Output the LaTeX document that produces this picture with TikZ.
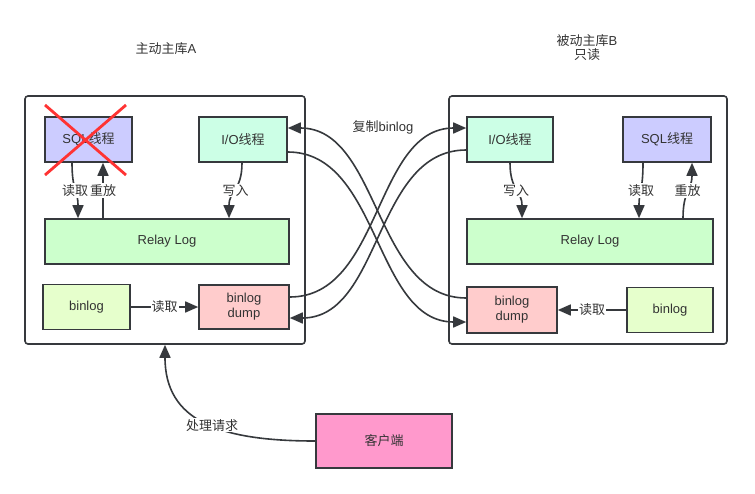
\documentclass[tikz,border=0pt]{standalone}
\usepackage{fontspec}
\setmainfont{Liberation Sans}
\newfontfamily\cjk{Noto Sans CJK SC}
\usetikzlibrary{arrows.meta}
\definecolor{linec}{HTML}{36393D}
\definecolor{txtc}{HTML}{333333}
\definecolor{sqlc}{HTML}{CCCCFF}
\definecolor{ioc}{HTML}{CCFFE6}
\definecolor{relayc}{HTML}{CCFFCC}
\definecolor{binc}{HTML}{E6FFCC}
\definecolor{dumpc}{HTML}{FFCCCC}
\definecolor{clientc}{HTML}{FF99CC}
\definecolor{crossc}{HTML}{FF3333}
\tikzset{
  base/.style={font=\fontsize{13}{15}\selectfont, text=txtc},
  box/.style={base, draw=linec, line width=1.6pt, inner sep=0pt, align=center},
  bigbox/.style={draw=linec, line width=1.6pt, rounded corners=3pt, fill=white, inner sep=0pt},
  arr/.style={draw=linec, line width=1.6pt, -{Triangle[length=13pt,width=11pt]}},
  lbl/.style={base, fill=white, inner sep=1pt},
  title/.style={base, align=center},
}
\begin{document}
\begin{tikzpicture}[x=1pt,y=-1pt]
\useasboundingbox (0,0) rectangle (755,493);
\fill[white] (0,0) rectangle (755,493);

% titles
\node[title] (tA) at (166,49) {{\cjk 主动主库}A};
\node[title] (tB) at (587,48) {{\cjk 被动主库}B\\[-1pt]{\cjk 只读}};

% big boxes
\node[bigbox, minimum width=280pt, minimum height=248pt] (bigA) at (165,220) {};
\node[bigbox, minimum width=278pt, minimum height=248pt] (bigB) at (588,220) {};

% left inner
\node[box, fill=sqlc, minimum width=87pt, minimum height=45pt] (sqlA) at (88.5,139.5) {\raisebox{-1.5pt}{SQL{\cjk 线程}}};
\node[box, fill=ioc, minimum width=88pt, minimum height=45pt] (ioA) at (243,139.5) {\raisebox{-1.5pt}{I/O{\cjk 线程}}};
\node[box, fill=relayc, minimum width=244pt, minimum height=45pt] (relayA) at (167,241.5) {\raisebox{-1.5pt}{Relay Log}};
\node[box, fill=binc, minimum width=87pt, minimum height=45pt] (binA) at (86.5,307) {\raisebox{-1.5pt}{binlog}};
\node[box, fill=dumpc, minimum width=90pt, minimum height=44pt] (dumpA) at (244,307) {binlog\\dump};

% right inner
\node[box, fill=ioc, minimum width=86pt, minimum height=45pt] (ioB) at (510,139.5) {\raisebox{-1.5pt}{I/O{\cjk 线程}}};
\node[box, fill=sqlc, minimum width=88pt, minimum height=45pt] (sqlB) at (667,139.5) {\raisebox{-1.5pt}{SQL{\cjk 线程}}};
\node[box, fill=relayc, minimum width=246pt, minimum height=45pt] (relayB) at (590,241.5) {\raisebox{-1.5pt}{Relay Log}};
\node[box, fill=dumpc, minimum width=90pt, minimum height=46pt] (dumpB) at (512,310) {binlog\\dump};
\node[box, fill=binc, minimum width=86pt, minimum height=45pt] (binB) at (670,310) {\raisebox{-1.5pt}{binlog}};

% client
\node[box, fill=clientc, minimum width=136pt, minimum height=54pt] (client) at (384,441) {\cjk 客户端};

% red cross over SQL thread A
\draw[crossc, line width=2.8pt] (45,105) -- (126,175);
\draw[crossc, line width=2.8pt] (126,105) -- (45,175);

% left inner arrows
\draw[arr] ([xshift=-16.5pt]sqlA.south) .. controls +(0,28) and +(0,-28) .. ([xshift=-89pt]relayA.north)
  node[lbl, pos=0.5] {\cjk 读取};
\draw[arr] ([xshift=-64pt]relayA.north) -- ([xshift=14.5pt]sqlA.south)
  node[lbl, pos=0.5] {\cjk 重放};
\draw[arr] ([xshift=-1pt]ioA.south) .. controls +(0,28) and +(0,-28) .. ([xshift=62pt]relayA.north)
  node[lbl, pos=0.5] {\cjk 写入};
\draw[arr] (binA.east) -- (dumpA.west) node[lbl, pos=0.5] {\cjk 读取};

% right inner arrows
\draw[arr] (ioB.south) .. controls +(0,28) and +(0,-28) .. ([xshift=-68pt]relayB.north)
  node[lbl, pos=0.5] {\cjk 写入};
\draw[arr] ([xshift=-24pt]sqlB.south) .. controls +(0,28) and +(0,-28) .. ([xshift=49pt]relayB.north)
  node[lbl, pos=0.5] {\cjk 读取};
\draw[arr] ([xshift=93pt]relayB.north) .. controls +(0,-28) and +(0,28) .. ([xshift=25pt]sqlB.south)
  node[lbl, pos=0.5] {\cjk 重放};
\draw[arr] (binB.west) -- (dumpB.east) node[lbl, pos=0.5] {\cjk 读取};

% crossing replication curves
\draw[arr] ([yshift=12pt]dumpB.west) .. controls +(-92,0) and +(92,0) .. ([yshift=11.5pt]ioA.east);
\draw[arr] ([yshift=-12.5pt]ioA.east) .. controls +(92,0) and +(-92,0) .. ([yshift=-12pt]dumpB.west);
\draw[arr] ([yshift=10pt]dumpA.east) .. controls +(92,0) and +(-92,0) .. ([yshift=11.5pt]ioB.west);
\draw[arr] ([yshift=-10.5pt]ioB.west) .. controls +(-92,0) and +(92,0) .. ([yshift=-11pt]dumpA.east);
\node[base] (copy) at (383,127) {{\cjk 复制}binlog};

% client request
\draw[arr] (client.west) .. controls +(-96,0) and +(0,76) .. (bigA.south)
  node[lbl, pos=0.45] {\cjk 处理请求};
\end{tikzpicture}
\end{document}
